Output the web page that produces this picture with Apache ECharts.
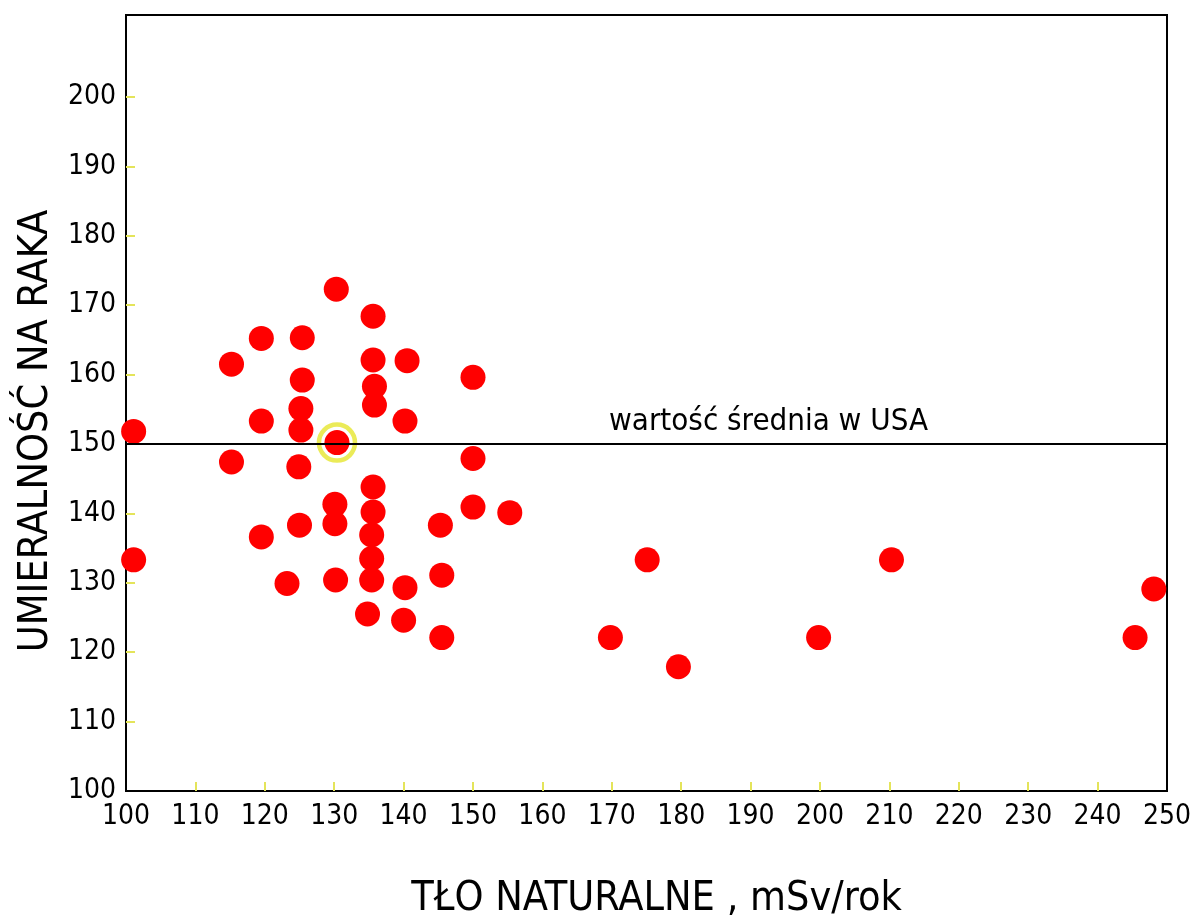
<!DOCTYPE html>
<html>
<head>
<meta charset="utf-8">
<script src="https://cdn.jsdelivr.net/npm/echarts@6/dist/echarts.min.js"></script>
<style>
html,body{margin:0;padding:0;background:#fff;}
#chart{width:1191px;height:923px;}
</style>
</head>
<body>
<div id="chart"></div>
<script>
// Natural background radiation (x) and cancer mortality (y)
const backgroundDose = [
  130.3,135.6,119.5,125.4,115.2,135.6,140.5,150.0,125.4,135.8,
  135.8,119.5,125.2,125.2,140.2,101.1,130.4,115.2,124.9,150.0,
  135.6,130.1,130.1,135.6,150.0,155.3,125.0,145.3,119.5,135.4,
  101.1,135.4,123.2,130.2,135.4,140.2,145.5,134.8,140.0,145.5,
  169.8,175.1,179.6,199.8,210.3,245.4,248.1
];
const mortality = [
  172.3,168.4,165.2,165.3,161.5,162.1,162.0,159.6,159.2,158.3,
  155.6,153.3,155.1,152.0,153.3,151.8,150.2,147.4,146.7,147.9,
  143.8,141.3,138.5,140.2,140.9,140.1,138.3,138.3,136.6,136.9,
  133.3,133.5,129.9,130.4,130.4,129.3,131.1,125.5,124.6,122.1,
  122.1,133.3,117.9,122.1,133.3,122.1,129.1
];
const highlightIndex = [16];
const usaMean = 150;
const meanLabel = 'wartość średnia w USA';
const xTickLabels = [100,110,120,130,140,150,160,170,180,190,200,210,220,230,240,250];
const xTickMarks = [110,120,130,140,150,160,170,180,190,200,210,220,230,240];
const yTickLabels = [100,110,120,130,140,150,160,170,180,190,200];
const yTickMarks = [110,120,130,140,150,160,170,180,190,200];
const xTitle = 'TŁO NATURALNE , mSv/rok';
const yTitle = 'UMIERALNOŚĆ NA RAKA';

const points = backgroundDose.map((x, i) => [x, mortality[i]]);
const highlighted = highlightIndex.map(i => points[i]);

const FONT = "'Liberation Sans Narrow','DejaVu Sans Condensed','Liberation Sans',sans-serif";
const chart = echarts.init(document.getElementById('chart'), null, {renderer: 'canvas'});
chart.setOption({
  animation: false,
  backgroundColor: '#fff',
  grid: {left: 126, right: 24, top: 15, bottom: 132, containLabel: false, outerBoundsMode: 'none',
         show: true, borderColor: '#000', borderWidth: 2, backgroundColor: 'transparent'},
  xAxis: {
    type: 'value', min: 100, max: 250, interval: 10,
    axisLine: {show: true, lineStyle: {color: '#000', width: 2}},
    axisTick: {show: true, inside: true, length: 9, customValues: xTickMarks, lineStyle: {color: '#e4e45a', width: 2}},
    axisLabel: {customValues: xTickLabels, margin: 12, fontSize: 28, color: '#000', fontFamily: FONT},
    splitLine: {show: false},
    name: xTitle, nameLocation: 'middle', nameGap: 88,
    nameTextStyle: {fontSize: 41, color: '#000', fontFamily: FONT, padding: [0, 0, 0, 20]}
  },
  yAxis: {
    type: 'value', min: 100, max: 211.8, interval: 10,
    axisLine: {show: true, lineStyle: {color: '#000', width: 2}},
    axisTick: {show: true, inside: true, length: 9, customValues: yTickMarks, lineStyle: {color: '#e4e45a', width: 2}},
    axisLabel: {customValues: yTickLabels, margin: 10, fontSize: 28, color: '#000', fontFamily: FONT},
    splitLine: {show: false},
    name: yTitle, nameLocation: 'middle', nameGap: 68, nameRotate: 90,
    nameTextStyle: {fontSize: 41, color: '#000', fontFamily: FONT, padding: [0, 56, 0, 0]}
  },
  series: [
    {
      type: 'scatter', data: points, symbol: 'circle', symbolSize: 25,
      itemStyle: {color: '#ff0000', opacity: 1},
      z: 3,
      markLine: {
        silent: true, symbol: 'none',
        lineStyle: {color: '#000', width: 2, type: 'solid'},
        label: {show: true, position: 'insideStartTop', distance: [483, 6], formatter: meanLabel,
                fontSize: 31, color: '#000', fontFamily: FONT},
        data: [{yAxis: usaMean}]
      }
    },
    {
      type: 'scatter', data: highlighted, symbol: 'circle', symbolSize: 36,
      itemStyle: {color: 'rgba(0,0,0,0)', borderColor: '#e6e62e', borderWidth: 4.5},
      z: 4
    }
  ]
});
</script>
</body>
</html>
